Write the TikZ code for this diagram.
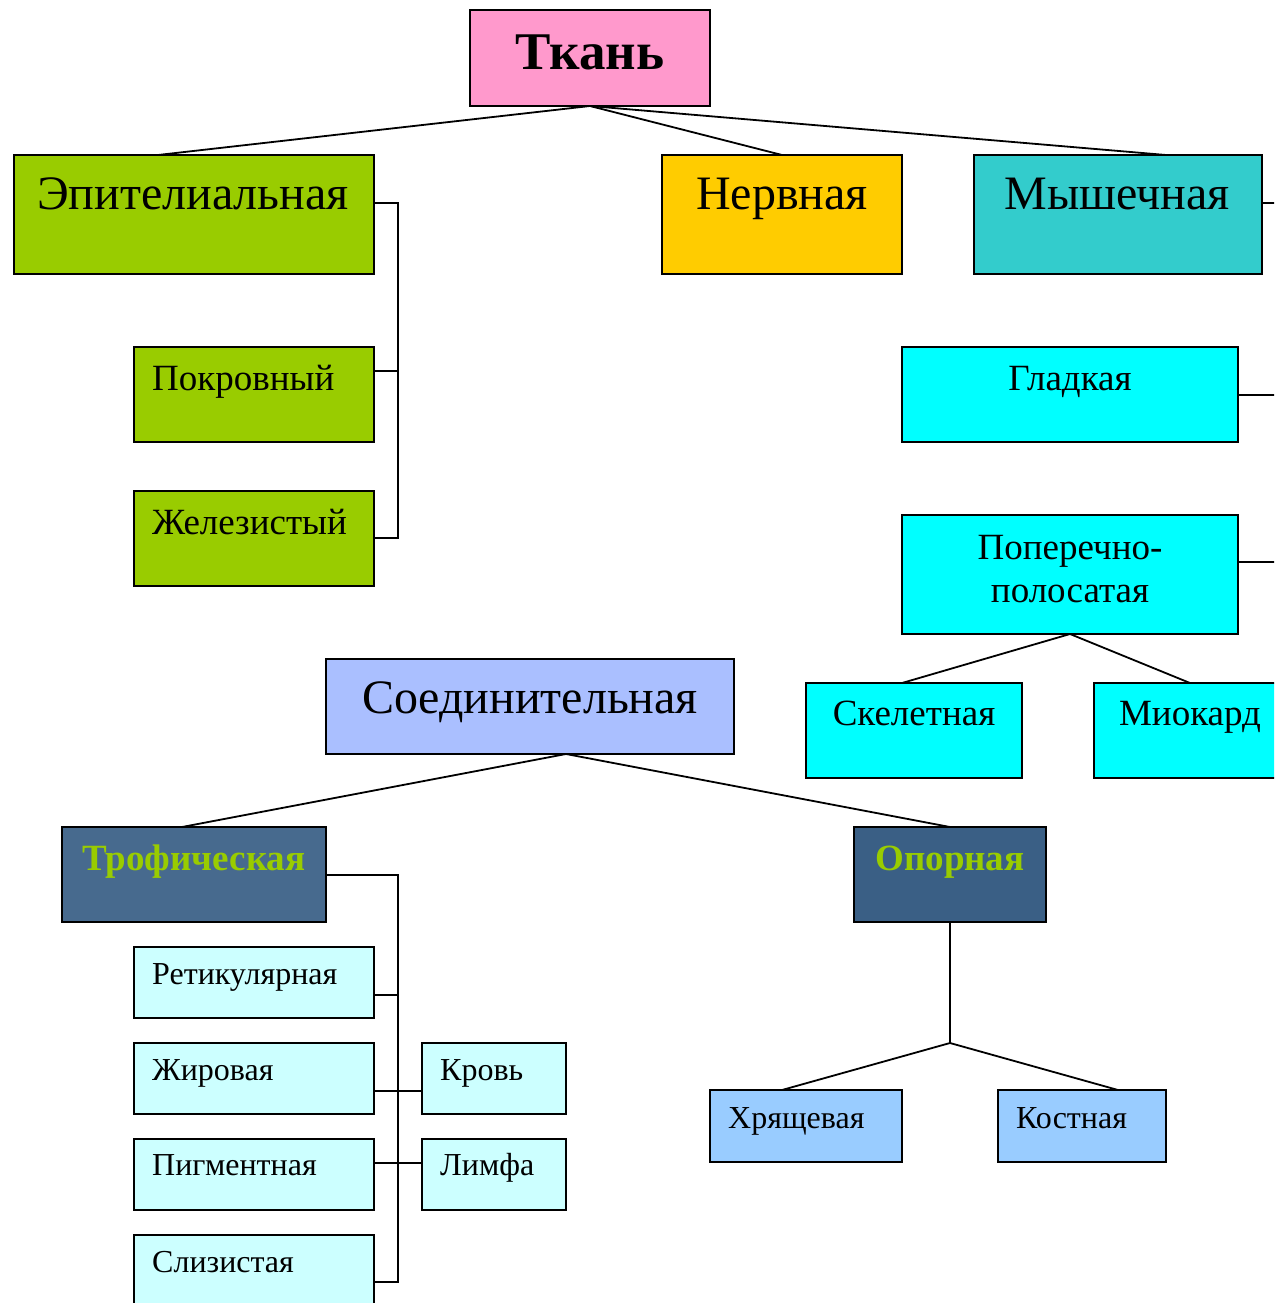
\documentclass[tikz,border=0pt]{standalone}
\usepackage{fontspec}
\setmainfont{Liberation Serif}
\usetikzlibrary{fit,calc}

\definecolor{cPink}{HTML}{FF99CC}
\definecolor{cLime}{HTML}{99CC00}
\definecolor{cGold}{HTML}{FFCC00}
\definecolor{cTeal}{HTML}{33CCCC}
\definecolor{cCyan}{HTML}{00FFFF}
\definecolor{cLav}{HTML}{AABFFF}
\definecolor{cSteel}{HTML}{476A8E}
\definecolor{cSteelDk}{HTML}{3A5F85}
\definecolor{cIce}{HTML}{CCFFFF}
\definecolor{cSky}{HTML}{99CCFF}

% box: name, x1, y1, x2, y2, fill
\newcommand\tbox[6]{%
  \coordinate (#1-a) at (#2,#3);
  \coordinate (#1-b) at (#4,#5);
  \node[boxstyle, fill=#6, fit=(#1-a)(#1-b)] (#1) {};
}

\begin{document}
\begin{tikzpicture}[x=1pt,y=-1pt,
  boxstyle/.style={draw=black, line width=2pt, inner sep=0pt, outer sep=0pt, rectangle},
  conn/.style={draw=black, line width=1.8pt},
  ttitle/.style={font=\fontsize{53}{60}\selectfont\bfseries, inner sep=0pt},
  tbig/.style={font=\fontsize{48}{54}\selectfont, inner sep=0pt},
  tmid/.style={font=\fontsize{37}{43}\selectfont, inner sep=0pt},
  tsmall/.style={font=\fontsize{32}{38}\selectfont, inner sep=0pt},
  tgreen/.style={font=\fontsize{37}{43}\selectfont\bfseries, text=cLime, inner sep=0pt}
]
\useasboundingbox (0,0) rectangle (1274,1303);
\clip (0,0) rectangle (1274,1303);

% ---- junction and free-end points ----
\coordinate (epiIn)  at (158,155);
\coordinate (myshIn) at (1166,155);
\coordinate (soedOut) at (566,754);
\coordinate (trofIn) at (182,827);
\coordinate (oporJ)  at (950,1043);
\coordinate (hrIn)   at (782,1090);
\coordinate (kostIn) at (1118,1090);
\coordinate (skIn)   at (902,683);
\coordinate (myshR)  at (1280,203);
\coordinate (gladR)  at (1280,395);
\coordinate (popR)   at (1280,562);
\coordinate (epiBus) at (398,203);
\coordinate (epiBusEnd) at (398,538);
\coordinate (trofBus) at (398,875);
\coordinate (trofBusEnd) at (398,1282);

% ---- boxes ----
\tbox{tkan}{470}{10}{710}{106}{cPink}
\tbox{epi}{14}{155}{374}{274}{cLime}
\tbox{nerv}{662}{155}{902}{274}{cGold}
\tbox{mysh}{974}{155}{1262}{274}{cTeal}
\tbox{pokr}{134}{347}{374}{442}{cLime}
\tbox{zhel}{134}{491}{374}{586}{cLime}
\tbox{glad}{902}{347}{1238}{442}{cCyan}
\tbox{pop}{902}{515}{1238}{634}{cCyan}
\tbox{skel}{806}{683}{1022}{778}{cCyan}
\tbox{miok}{1094}{683}{1286}{778}{cCyan}
\tbox{soed}{326}{659}{734}{754}{cLav}
\tbox{trof}{62}{827}{326}{922}{cSteel}
\tbox{opor}{854}{827}{1046}{922}{cSteelDk}
\tbox{ret}{134}{947}{374}{1018}{cIce}
\tbox{zhir}{134}{1043}{374}{1114}{cIce}
\tbox{pigm}{134}{1139}{374}{1210}{cIce}
\tbox{sliz}{134}{1235}{374}{1330}{cIce}
\tbox{krov}{422}{1043}{566}{1114}{cIce}
\tbox{limf}{422}{1139}{566}{1210}{cIce}
\tbox{hrya}{710}{1090}{902}{1162}{cSky}
\tbox{kost}{998}{1090}{1166}{1162}{cSky}

% ---- links ----
\draw[conn] (tkan.south) -- (epiIn);
\draw[conn] (tkan.south) -- (nerv.north);
\draw[conn] (tkan.south) -- (myshIn);

\draw[conn] ($(epi.north east)+(0,48)$) -- (epiBus) -- (epiBusEnd) -- ($(zhel.north east)+(0,47)$);
\draw[conn] ($(pokr.north east)+(0,24)$) -- ($(epiBus)+(0,168)$);

\draw[conn] ($(mysh.north east)+(0,48)$) -- (myshR);
\draw[conn] ($(glad.north east)+(0,48)$) -- (gladR);
\draw[conn] ($(pop.north east)+(0,47)$) -- (popR);

\draw[conn] (pop.south) -- (skIn);
\draw[conn] (pop.south) -- (miok.north);

\draw[conn] (soedOut) -- (trofIn);
\draw[conn] (soedOut) -- (opor.north);

\draw[conn] ($(trof.north east)+(0,48)$) -- (trofBus) -- (trofBusEnd) -- ($(sliz.north east)+(0,47)$);
\draw[conn] ($(ret.north east)+(0,48)$) -- ($(trofBus)+(0,120)$);
\draw[conn] ($(zhir.north east)+(0,48)$) -- ($(krov.north west)+(0,48)$);
\draw[conn] ($(pigm.north east)+(0,24)$) -- ($(limf.north west)+(0,24)$);

\draw[conn] (opor.south) -- (oporJ);
\draw[conn] (oporJ) -- (hrIn);
\draw[conn] (oporJ) -- (kostIn);

% ---- labels ----
\node[ttitle, anchor=base] (l-tkan) at (590,70) {Ткань};
\node[tbig, anchor=base] (l-epi) at (193,209) {Эпителиальная};
\node[tbig, anchor=base] (l-nerv) at (782,209) {Нервная};
\node[tbig, anchor=base] (l-mysh) at (1117,209) {Мышечная};
\node[tmid, anchor=base west] (l-pokr) at (152,390) {Покровный};
\node[tmid, anchor=base west] (l-zhel) at (152,534) {Железистый};
\node[tmid, anchor=base] (l-glad) at (1070,390) {Гладкая};
\node[tmid, anchor=base] (l-pop1) at (1070,559) {Поперечно-};
\node[tmid, anchor=base] (l-pop2) at (1070,602) {полосатая};
\node[tmid, anchor=base] (l-skel) at (914,725) {Скелетная};
\node[tmid, anchor=base] (l-miok) at (1190,725) {Миокард};
\node[tbig, anchor=base] (l-soed) at (530,713) {Соединительная};
\node[tgreen, anchor=base] (l-trof) at (194,870) {Трофическая};
\node[tgreen, anchor=base] (l-opor) at (950,870) {Опорная};
\node[tsmall, anchor=base west] (l-ret) at (152,984) {Ретикулярная};
\node[tsmall, anchor=base west] (l-zhir) at (152,1080) {Жировая};
\node[tsmall, anchor=base west] (l-pigm) at (152,1175) {Пигментная};
\node[tsmall, anchor=base west] (l-sliz) at (152,1272) {Слизистая};
\node[tsmall, anchor=base west] (l-krov) at (440,1080) {Кровь};
\node[tsmall, anchor=base west] (l-limf) at (440,1175) {Лимфа};
\node[tsmall, anchor=base west] (l-hrya) at (728,1128) {Хрящевая};
\node[tsmall, anchor=base west] (l-kost) at (1016,1128) {Костная};
\end{tikzpicture}
\end{document}
